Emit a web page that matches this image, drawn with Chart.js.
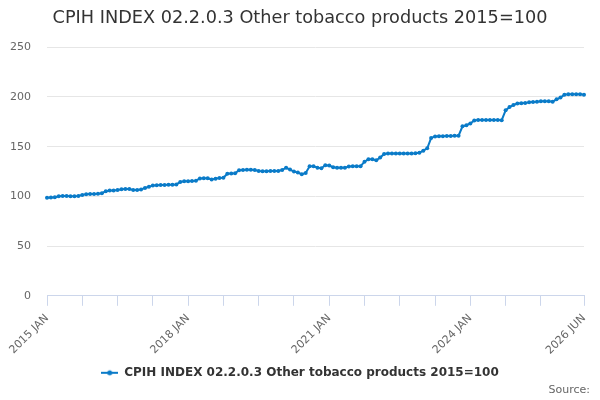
<!DOCTYPE html>
<html>
<head>
<meta charset="utf-8">
<title>CPIH INDEX 02.2.0.3 Other tobacco products 2015=100</title>
<script src="https://cdn.jsdelivr.net/npm/chart.js@4.4.1/dist/chart.umd.min.js"></script>
<style>
  html, body { margin: 0; padding: 0; background: #ffffff; }
  #wrap { width: 600px; height: 400px; }
</style>
</head>
<body>
<div id="wrap"><canvas id="myChart" width="600" height="400"></canvas></div>
<script>
// monthly index values, 2015=100
const months = ['JAN', 'FEB', 'MAR', 'APR', 'MAY', 'JUN', 'JUL', 'AUG', 'SEP', 'OCT', 'NOV', 'DEC'];
const years = [2015, 2016, 2017, 2018, 2019, 2020, 2021, 2022, 2023, 2024, 2025, 2026];

const v2015 = [98.6, 98.8, 99.2, 100.2, 100.3, 100.3, 100.2, 100.1, 100.3, 101.5, 102.2, 102.4];
const v2016 = [102.5, 102.6, 103.2, 105.2, 105.8, 106.0, 106.3, 107.2, 107.5, 107.3, 106.5, 106.4];
const v2017 = [107.0, 108.5, 109.6, 111.0, 111.3, 111.4, 111.5, 111.6, 111.7, 112.0, 114.5, 115.2];
const v2018 = [115.3, 115.5, 115.8, 118.0, 118.3, 118.2, 117.0, 117.8, 118.6, 118.8, 122.8, 123.0];
const v2019 = [123.2, 126.3, 126.6, 126.7, 126.7, 126.6, 125.5, 125.3, 125.3, 125.4, 125.4, 125.5];
const v2020 = [126.5, 128.8, 127.0, 125.0, 123.9, 122.3, 123.6, 130.2, 130.3, 128.9, 128.3, 131.3];
const v2021 = [131.0, 129.3, 128.9, 128.9, 128.9, 130.0, 130.3, 130.3, 130.3, 134.9, 137.3, 137.3];
const v2022 = [136.3, 139.0, 142.6, 143.0, 143.0, 143.0, 143.0, 143.1, 143.1, 143.2, 143.3, 143.8];
const v2023 = [146.0, 148.3, 158.6, 160.3, 160.5, 160.6, 160.7, 160.8, 160.9, 161.0, 170.5, 171.6];
const v2024 = [173.3, 176.3, 176.7, 176.8, 176.9, 176.9, 176.8, 176.7, 176.6, 186.5, 189.9, 191.9];
const v2025 = [193.4, 193.6, 193.8, 194.6, 194.9, 195.1, 195.6, 195.6, 195.6, 195.2, 197.6, 199.4];
const v2026 = [202.3, 202.6, 202.7, 202.6, 202.6, 202.3];

const seriesName = 'CPIH INDEX 02.2.0.3 Other tobacco products 2015=100';
const lineColor = '#0a7bc8';

const values = [].concat(v2015, v2016, v2017, v2018, v2019, v2020,
                         v2021, v2022, v2023, v2024, v2025, v2026);
const labels = [];
years.forEach(y => months.forEach(m => labels.push(y + ' ' + m)));
labels.length = values.length;
const last = values.length - 1;

// highcharts style legend symbol: short line with a dot
function legendMarker() {
    const c = document.createElement('canvas');
    c.width = 17; c.height = 10;
    const g = c.getContext('2d');
    g.strokeStyle = lineColor;
    g.lineWidth = 2;
    g.beginPath(); g.moveTo(0, 5); g.lineTo(17, 5); g.stroke();
    g.fillStyle = lineColor;
    g.beginPath(); g.arc(8.5, 5, 2.5, 0, Math.PI * 2); g.fill();
    return c;
}

function xTickColor(ctx) {
    const i = ctx.index;
    return ((i % 9 === 0 && i <= 126) || i === last) ? '#ccd6eb' : 'rgba(0,0,0,0)';
}

Chart.defaults.font.family = "'DejaVu Sans', Verdana, sans-serif";

new Chart(document.getElementById('myChart'), {
    type: 'line',
    data: {
        labels: labels,
        datasets: [{
            label: seriesName,
            data: values,
            borderColor: lineColor,
            backgroundColor: lineColor,
            borderWidth: 2,
            pointRadius: 2,
            pointBorderWidth: 0,
            pointBackgroundColor: lineColor,
            tension: 0
        }]
    },
    options: {
        responsive: false,
        animation: false,
        layout: { padding: { left: 10, right: 10, top: 0, bottom: 0 } },
        plugins: {
            title: {
                display: true,
                text: seriesName,
                color: '#333333',
                font: { size: 17.7, weight: 'normal' },
                padding: { top: 8, bottom: 18 }
            },
            subtitle: {
                display: true,
                text: 'Source:',
                position: 'bottom',
                align: 'end',
                color: '#666666',
                font: { size: 11, weight: 'normal' },
                padding: { top: 0, bottom: 3 }
            },
            legend: {
                position: 'bottom',
                maxHeight: 20,
                labels: {
                    usePointStyle: true,
                    pointStyle: legendMarker(),
                    pointStyleWidth: 17,
                    color: '#333333',
                    font: { size: 12, weight: 'bold' },
                    padding: 3
                }
            },
            tooltip: { enabled: false }
        },
        scales: {
            x: {
                offset: false,
                grid: {
                    drawOnChartArea: false,
                    tickLength: 10,
                    color: xTickColor,
                    tickColor: xTickColor
                },
                border: { color: '#ccd6eb' },
                ticks: {
                    autoSkip: false,
                    minRotation: 45,
                    maxRotation: 45,
                    color: '#666666',
                    font: { size: 11 },
                    padding: 6,
                    callback: (v, i) => (i % 36 === 0 || i === last) ? labels[i] : ''
                },
                afterFit: s => { s.height = 68; }
            },
            y: {
                min: 0,
                max: 250,
                ticks: { stepSize: 50, color: '#666666', font: { size: 11 }, padding: 16 },
                grid: { color: '#e6e6e6', drawTicks: false },
                border: { display: false },
                afterFit: s => { s.width = 37; }
            },
            // empty spacer on the right so the plot ends where the reference does
            yRight: {
                position: 'right',
                display: true,
                ticks: { display: false },
                grid: { display: false },
                border: { display: false },
                afterFit: s => { s.width = 6; }
            }
        }
    }
});
</script>
</body>
</html>
